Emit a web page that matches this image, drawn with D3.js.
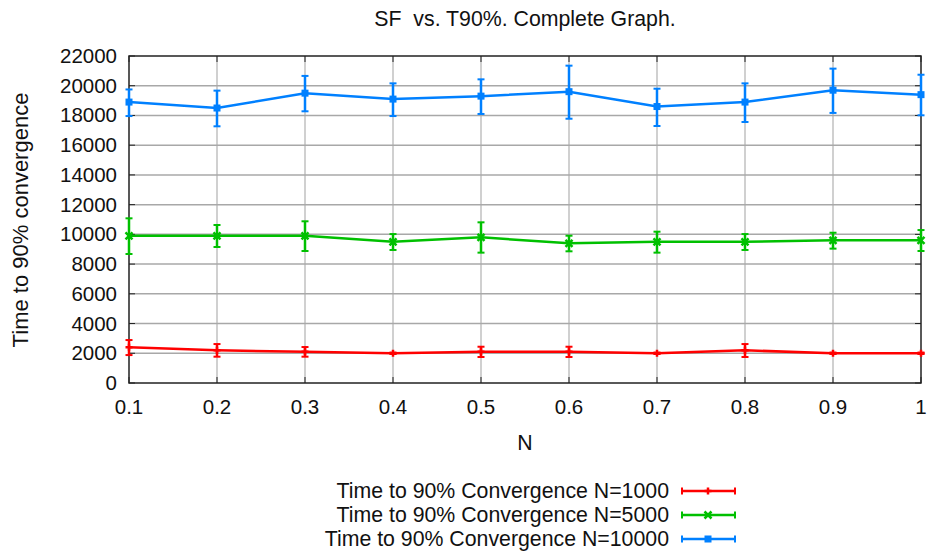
<!DOCTYPE html>
<html>
<head>
<meta charset="utf-8">
<script src="https://cdn.jsdelivr.net/npm/d3@7"></script>
<style>
  body { margin: 0; background: #fff; }
  svg { font-family: "Liberation Sans", Arial, sans-serif; }
</style>
</head>
<body>
<svg id="canvas" width="930" height="552"></svg>
<script>
const nValues = [0.1, 0.2, 0.3, 0.4, 0.5, 0.6, 0.7, 0.8, 0.9, 1.0];
const xTickLabels = ["0.1", "0.2", "0.3", "0.4", "0.5", "0.6", "0.7", "0.8", "0.9", "1"];
const yTicks = [0, 2000, 4000, 6000, 8000, 10000, 12000, 14000, 16000, 18000, 20000, 22000];

const t1000 = [2400, 2200, 2100, 2000, 2100, 2100, 2000, 2200, 2000, 2000];
const t1000Lo = [1880, 1770, 1770, 1950, 1750, 1750, 1950, 1750, 1950, 1950];
const t1000Hi = [2890, 2620, 2420, 2050, 2440, 2440, 2050, 2620, 2050, 2050];

const t5000 = [9900, 9900, 9900, 9500, 9800, 9400, 9500, 9500, 9600, 9600];
const t5000Lo = [8680, 9150, 8880, 8950, 8770, 8860, 8770, 8950, 9040, 8880];
const t5000Hi = [11080, 10630, 10880, 10020, 10810, 9910, 10180, 10020, 10110, 10290];

const t10000 = [18900, 18500, 19500, 19100, 19300, 19600, 18600, 18900, 19700, 19400];
const t10000Lo = [17960, 17270, 18280, 17960, 18100, 17780, 17290, 17560, 18170, 18010];
const t10000Hi = [19750, 19670, 20660, 20160, 20430, 21350, 19800, 20160, 21150, 20740];

const seriesNames = ["Time to 90% Convergence N=1000", "Time to 90% Convergence N=5000", "Time to 90% Convergence N=10000"];
const seriesColors = ["#ff0000", "#00c000", "#0080ff"];

const series = [
  { name: seriesNames[0], color: seriesColors[0], y: t1000, lo: t1000Lo, hi: t1000Hi, marker: "plus" },
  { name: seriesNames[1], color: seriesColors[1], y: t5000, lo: t5000Lo, hi: t5000Hi, marker: "cross" },
  { name: seriesNames[2], color: seriesColors[2], y: t10000, lo: t10000Lo, hi: t10000Hi, marker: "square" }
];

const svg = d3.select("#canvas");
const plotLeft = 129, plotRight = 921, plotTop = 56, plotBottom = 383;
const fs = 20.5;
const fsText = 21.3;

const x = d3.scaleLinear().domain([0.1, 1.0]).range([plotLeft, plotRight]);
const y = d3.scaleLinear().domain([0, 22000]).range([plotBottom, plotTop]);

// grid
svg.append("g").selectAll("line").data(nValues.slice(1, -1)).join("line")
  .attr("x1", d => x(d)).attr("x2", d => x(d))
  .attr("y1", plotTop).attr("y2", plotBottom)
  .attr("stroke", "#c0c0c0").attr("stroke-width", 1.5);
svg.append("g").selectAll("line").data(yTicks.slice(1, -1)).join("line")
  .attr("x1", plotLeft).attr("x2", plotRight)
  .attr("y1", d => y(d)).attr("y2", d => y(d))
  .attr("stroke", "#a8a8a8").attr("stroke-width", 1.5);

// tick marks (inside, on all sides)
const tk = svg.append("g").attr("stroke", "#222").attr("stroke-width", 1);
yTicks.forEach(v => {
  tk.append("line").attr("x1", plotLeft).attr("x2", plotLeft + 6).attr("y1", y(v)).attr("y2", y(v));
  tk.append("line").attr("x1", plotRight).attr("x2", plotRight - 6).attr("y1", y(v)).attr("y2", y(v));
});
nValues.forEach(v => {
  tk.append("line").attr("x1", x(v)).attr("x2", x(v)).attr("y1", plotBottom).attr("y2", plotBottom - 6);
  tk.append("line").attr("x1", x(v)).attr("x2", x(v)).attr("y1", plotTop).attr("y2", plotTop + 6);
});

// frame
svg.append("rect").attr("x", plotLeft).attr("y", plotTop)
  .attr("width", plotRight - plotLeft).attr("height", plotBottom - plotTop)
  .attr("fill", "none").attr("stroke", "#222").attr("stroke-width", 1.5);

// tick labels
svg.append("g").selectAll("text").data(yTicks).join("text")
  .attr("x", plotLeft - 12).attr("y", d => y(d) + 7)
  .attr("text-anchor", "end").attr("font-size", fs).attr("fill", "#111")
  .text(d => d);
svg.append("g").selectAll("text").data(nValues).join("text")
  .attr("x", d => x(d)).attr("y", 414)
  .attr("text-anchor", "middle").attr("font-size", fs).attr("fill", "#111")
  .text((d, i) => xTickLabels[i]);

// titles
svg.append("text").attr("x", 525).attr("y", 26).attr("text-anchor", "middle")
  .attr("font-size", fsText).attr("fill", "#111").attr("xml:space", "preserve")
  .text("SF  vs. T90%. Complete Graph.");
svg.append("text").attr("x", 525).attr("y", 450).attr("text-anchor", "middle")
  .attr("font-size", fsText).attr("fill", "#111").text("N");
svg.append("text").attr("transform", "translate(28,220) rotate(-90)")
  .attr("text-anchor", "middle").attr("font-size", fsText + 0.7).attr("fill", "#111")
  .text("Time to 90% convergence");

function drawMarker(g, type, cx, cy, color) {
  if (type === "square") {
    g.append("rect").attr("x", cx - 3.5).attr("y", cy - 3.5).attr("width", 7).attr("height", 7).attr("fill", color);
  } else if (type === "cross") {
    g.append("path").attr("d", `M${cx - 3.5},${cy - 3.5}L${cx + 3.5},${cy + 3.5}M${cx - 3.5},${cy + 3.5}L${cx + 3.5},${cy - 3.5}`)
      .attr("stroke", color).attr("stroke-width", 2.5);
  } else {
    g.append("path").attr("d", `M${cx - 3.5},${cy}L${cx + 3.5},${cy}M${cx},${cy - 3.5}L${cx},${cy + 3.5}`)
      .attr("stroke", color).attr("stroke-width", 2.5);
  }
}

series.forEach(s => {
  const g = svg.append("g");
  const line = d3.line().x((d, i) => x(nValues[i])).y(d => y(d));
  g.append("path").datum(s.y).attr("d", line)
    .attr("fill", "none").attr("stroke", s.color).attr("stroke-width", 2.5);
  s.y.forEach((v, i) => {
    const cx = x(nValues[i]);
    g.append("line").attr("x1", cx).attr("x2", cx).attr("y1", y(s.lo[i])).attr("y2", y(s.hi[i]))
      .attr("stroke", s.color).attr("stroke-width", 2.5);
    [s.lo[i], s.hi[i]].forEach(e => {
      g.append("line").attr("x1", cx - 3.5).attr("x2", cx + 3.5).attr("y1", y(e)).attr("y2", y(e))
        .attr("stroke", s.color).attr("stroke-width", 2);
    });
    drawMarker(g, s.marker, cx, y(v), s.color);
  });
});

// legend
series.forEach((s, i) => {
  const ly = 491 + i * 24;
  svg.append("text").attr("x", 669).attr("y", ly + 7).attr("text-anchor", "end")
    .attr("font-size", fsText).attr("fill", "#111").text(s.name);
  const g = svg.append("g");
  g.append("line").attr("x1", 682).attr("x2", 735).attr("y1", ly).attr("y2", ly)
    .attr("stroke", s.color).attr("stroke-width", 2.5);
  [682, 735].forEach(ex => {
    g.append("line").attr("x1", ex).attr("x2", ex).attr("y1", ly - 3.5).attr("y2", ly + 3.5)
      .attr("stroke", s.color).attr("stroke-width", 2);
  });
  drawMarker(g, s.marker, 708, ly, s.color);
});
</script>
</body>
</html>
